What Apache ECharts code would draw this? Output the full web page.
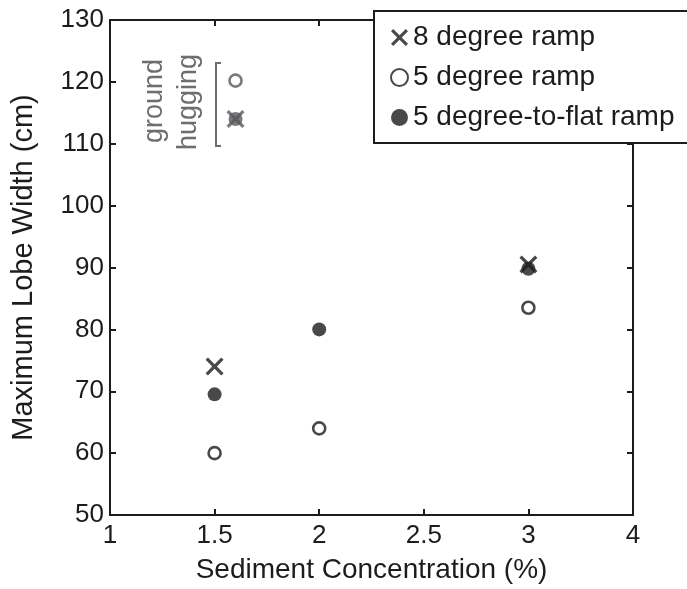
<!DOCTYPE html>
<html>
<head>
<meta charset="utf-8">
<script src="https://cdn.jsdelivr.net/npm/echarts@6/dist/echarts.min.js"></script>
<style>
  html, body { margin: 0; padding: 0; background: #fff; }
  #chart { width: 687px; height: 589px; }
</style>
</head>
<body>
<div id="chart"></div>
<script>
// Concentration axis: ticks are evenly spaced, labelled with these values
const tickValues = [1, 1.5, 2, 2.5, 3, 4];
const tickLabels = ['1', '1.5', '2', '2.5', '3', '4'];

// Sediment concentration (%) of each run
const concentration = [1.5, 2, 3];
// Maximum lobe width (cm) per ramp configuration
const ramp8 = [74, null, 90.5];
const ramp5 = [60, 64, 83.5];
const ramp5Flat = [69.5, 80, 89.8];

// Ground-hugging flows, drawn beside the bracket
const huggingConcentration = 1.6;
const hugging8 = 114;
const hugging5 = 120.2;
const hugging5Flat = 114;

const ink = '#1d1b1c';
const grey = '#58595b';
const noteGrey = '#6d6e71';
const font = "'Liberation Sans', Arial, Helvetica, sans-serif";

// piecewise-linear position of a concentration between evenly spaced ticks
function axisPos(c) {
  for (let i = 0; i < tickValues.length - 1; i++) {
    const a = tickValues[i], b = tickValues[i + 1];
    if (c >= a && c <= b) return i + (c - a) / (b - a);
  }
  return c < tickValues[0] ? 0 : tickValues.length - 1;
}

function points(values) {
  const out = [];
  values.forEach((v, i) => { if (v != null) out.push([axisPos(concentration[i]), v]); });
  return out;
}

// filled cross outline, so the "x" marker reads as two thick strokes
const crossPath = 'path://M0,2.6L2.6,0L10,7.4L17.4,0L20,2.6L12.6,10L20,17.4L17.4,20L10,12.6L2.6,20L0,17.4L7.4,10Z';

const chart = echarts.init(document.getElementById('chart'));

const axisCommon = {
  type: 'value',
  axisLine: { show: true, onZero: false, lineStyle: { color: ink, width: 2 } },
  axisTick: { show: true, inside: true, length: 6, lineStyle: { color: ink, width: 2 } },
  splitLine: { show: false }
};

chart.setOption({
  animation: false,
  backgroundColor: '#fff',
  grid: { left: 110, right: 54, top: 20, bottom: 70, containLabel: false },
  xAxis: [
    Object.assign({}, axisCommon, {
      position: 'bottom', min: 0, max: tickValues.length - 1, interval: 1,
      name: 'Sediment Concentration (%)', nameLocation: 'middle', nameGap: 41,
      nameTextStyle: { fontFamily: font, fontSize: 28, color: ink },
      axisLabel: {
        margin: 8, fontFamily: font, fontSize: 26, color: ink,
        formatter: v => tickLabels[Math.round(v)]
      }
    }),
    Object.assign({}, axisCommon, {
      position: 'top', min: 0, max: tickValues.length - 1, interval: 1,
      axisLabel: { show: false }
    })
  ],
  yAxis: [
    Object.assign({}, axisCommon, {
      position: 'left', min: 50, max: 130, interval: 10,
      name: 'Maximum Lobe Width (cm)', nameLocation: 'middle', nameGap: 72,
      nameTextStyle: { fontFamily: font, fontSize: 29, color: ink },
      axisLabel: { margin: 6, fontFamily: font, fontSize: 26, color: ink }
    }),
    Object.assign({}, axisCommon, {
      position: 'right', min: 50, max: 130, interval: 10,
      axisLabel: { show: false }
    })
  ],
  legend: {
    orient: 'vertical',
    left: 374, top: 11,
    padding: [12, 30, 11, 16],
    itemWidth: 17, itemHeight: 17, itemGap: 11,
    backgroundColor: '#fff',
    borderColor: ink, borderWidth: 2, borderRadius: 0,
    textStyle: { fontFamily: font, fontSize: 28, color: ink, lineHeight: 29 },
    data: ['8 degree ramp', '5 degree ramp', '5 degree-to-flat ramp']
  },
  series: [
    {
      name: '5 degree-to-flat ramp', type: 'scatter', symbol: 'circle', symbolSize: 14, z: 2,
      itemStyle: { color: ink },
      data: points(ramp5Flat).concat([
        { value: [axisPos(huggingConcentration), hugging5Flat], itemStyle: { color: grey } }
      ])
    },
    {
      name: '5 degree ramp', type: 'scatter', symbol: 'circle', symbolSize: 12, z: 2,
      itemStyle: { color: '#fff', borderColor: ink, borderWidth: 2.6 },
      data: points(ramp5).concat([
        { value: [axisPos(huggingConcentration), hugging5], itemStyle: { color: '#fff', borderColor: grey } }
      ])
    },
    {
      name: '8 degree ramp', type: 'scatter', symbol: crossPath, symbolSize: 18, z: 3,
      itemStyle: { color: ink },
      data: points(ramp8).concat([
        { value: [axisPos(huggingConcentration), hugging8], itemStyle: { color: grey } }
      ])
    }
  ],
  graphic: [
    {
      type: 'text', x: 155, y: 101, rotation: Math.PI / 2,
      style: { text: 'ground', font: '27px ' + font, fill: noteGrey, align: 'center', verticalAlign: 'middle' }
    },
    {
      type: 'text', x: 189, y: 102, rotation: Math.PI / 2,
      style: { text: 'hugging', font: '27px ' + font, fill: noteGrey, align: 'center', verticalAlign: 'middle' }
    },
    {
      type: 'polyline',
      shape: { points: [[221, 63], [216, 63], [216, 146], [221, 146]] },
      style: { stroke: noteGrey, lineWidth: 2, fill: null }
    }
  ]
});
</script>
</body>
</html>
